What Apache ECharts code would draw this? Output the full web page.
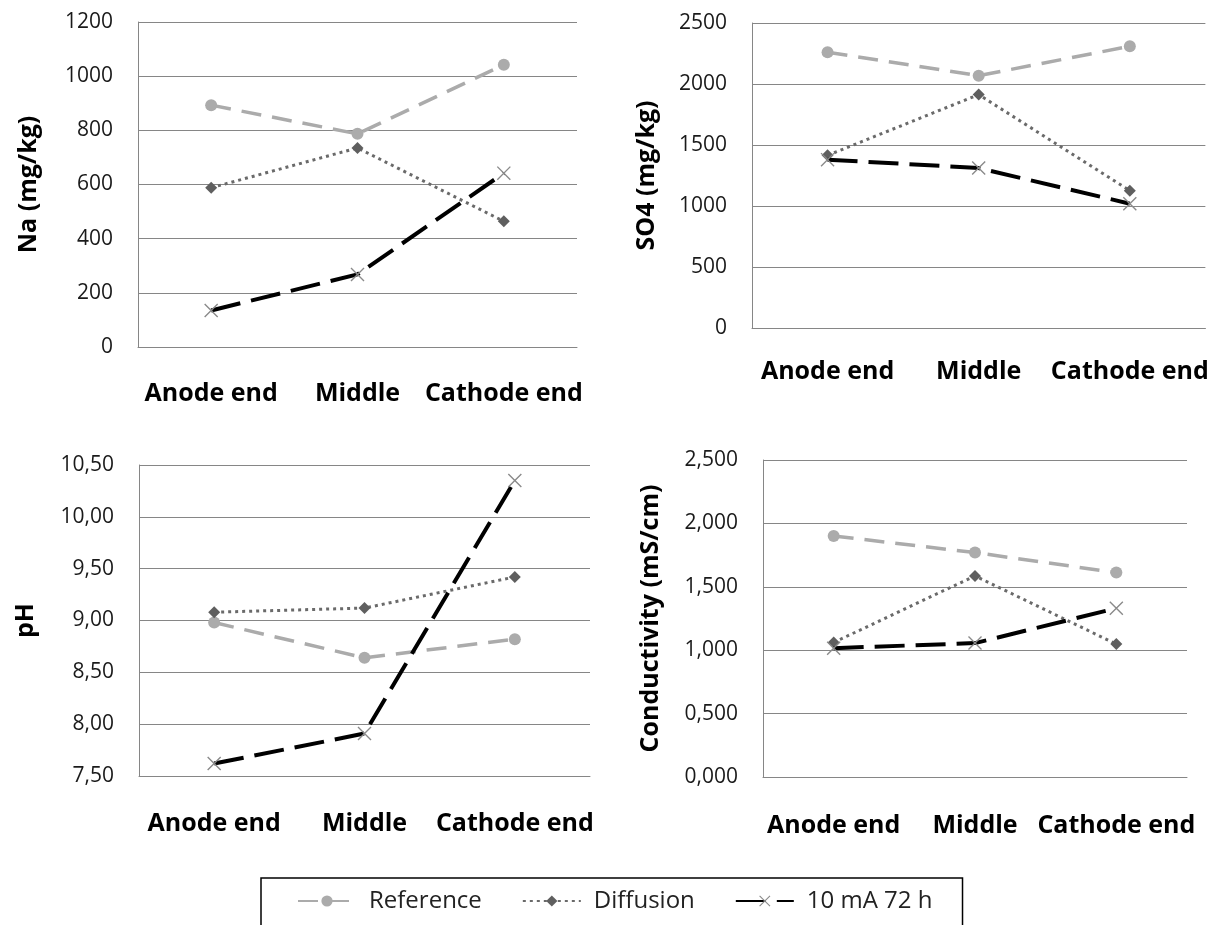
<!DOCTYPE html>
<html>
<head>
<meta charset="utf-8">
<script src="https://cdn.jsdelivr.net/npm/echarts@6/dist/echarts.min.js"></script>
<style>
  html, body { margin: 0; padding: 0; background: #fff; }
  #chart { width: 1211px; height: 925px; }
</style>
</head>
<body>
<div id="chart"></div>
<script>
// Sampling positions along the specimen
const categories = ['Anode end', 'Middle', 'Cathode end'];
const seriesNames = ['Reference', 'Diffusion', '10 mA 72 h'];

// Na (mg/kg)
const naReference = [893, 787, 1042];
const naDiffusion = [588, 735, 464];
const naCurrent = [135, 268, 642];

// SO4 (mg/kg)
const so4Reference = [2260, 2068, 2309];
const so4Diffusion = [1415, 1913, 1126];
const so4Current = [1380, 1311, 1019];

// pH
const phReference = [8.98, 8.64, 8.82];
const phDiffusion = [9.08, 9.12, 9.42];
const phCurrent = [7.62, 7.91, 10.35];

// Conductivity (mS/cm)
const condReference = [1.901, 1.770, 1.612];
const condDiffusion = [1.061, 1.586, 1.048];
const condCurrent = [1.016, 1.056, 1.331];

// Y axis ranges: [min, max, interval, decimals]
const naAxis = [0, 1200, 200, 0];
const so4Axis = [0, 2500, 500, 0];
const phAxis = [7.5, 10.5, 0.5, 2];
const condAxis = [0, 2.5, 0.5, 3];

const FONT = '"Open Sans", "Noto Sans", sans-serif';
const GRID_COLOR = '#868686';

const panels = [
  { title: 'Na (mg/kg)', axis: naAxis, data: [naReference, naDiffusion, naCurrent],
    grid: { left: 138, top: 22, width: 439, height: 325 }, nameGap: 97, labelMargin: 34 },
  { title: 'SO4 (mg/kg)', axis: so4Axis, data: [so4Reference, so4Diffusion, so4Current],
    grid: { left: 752, top: 23, width: 458, height: 305 }, nameGap: 93, labelMargin: 31 },
  { title: 'pH', axis: phAxis, data: [phReference, phDiffusion, phCurrent],
    grid: { left: 139, top: 465, width: 451, height: 311 }, nameGap: 101, labelMargin: 35 },
  { title: 'Conductivity (mS/cm)', axis: condAxis, data: [condReference, condDiffusion, condCurrent],
    grid: { left: 763, top: 460, width: 424, height: 317 }, nameGap: 100, labelMargin: 36 }
];

// Thin gray cross marker
const crossPath = 'path://M0,0.7L0.7,0L10,9.3L9.3,10Z M9.3,0L10,0.7L0.7,10L0,9.3Z';

const seriesStyles = [
  { symbol: 'circle', symbolSize: 12, itemStyle: { color: '#ababab' },
    lineStyle: { color: '#ababab', width: 3.5, type: [20, 11] } },
  { symbol: 'diamond', symbolSize: 12, itemStyle: { color: '#5f5f5f' },
    lineStyle: { color: '#6a6a6a', width: 3, type: [3, 4] } },
  { symbol: crossPath, symbolSize: 14, itemStyle: { color: '#8a8a8a' },
    lineStyle: { color: '#000', width: 4, type: [30, 11] } }
];

const grids = [], xAxes = [], yAxes = [], series = [];
panels.forEach((p, i) => {
  grids.push(p.grid);
  xAxes.push({
    type: 'category', gridIndex: i, data: categories, boundaryGap: true,
    axisLine: { show: true, lineStyle: { color: GRID_COLOR, width: 1 } },
    axisTick: { show: false },
    axisLabel: { interval: 0, color: '#000', fontFamily: FONT, fontWeight: 'bold', fontSize: 25, margin: p.labelMargin }
  });
  const [mn, mx, step, dec] = p.axis;
  yAxes.push({
    type: 'value', gridIndex: i, min: mn, max: mx, interval: step,
    name: p.title, nameLocation: 'middle', nameGap: p.nameGap,
    nameTextStyle: { color: '#000', fontFamily: FONT, fontWeight: 'bold', fontSize: 25 },
    axisLine: { show: true, lineStyle: { color: GRID_COLOR, width: 1 } },
    axisTick: { show: false },
    splitLine: { show: true, lineStyle: { color: GRID_COLOR, width: 1 } },
    axisLabel: {
      color: '#1a1a1a', fontFamily: FONT, fontSize: 21, margin: 25,
      formatter: v => v.toFixed(dec).replace('.', ',')
    }
  });
  p.data.forEach((vals, k) => {
    series.push(Object.assign({
      type: 'line', name: seriesNames[k], xAxisIndex: i, yAxisIndex: i,
      data: vals, showSymbol: true, animation: false, z: 3 + k
    }, seriesStyles[k]));
  });
});

const chart = echarts.init(document.getElementById('chart'), null, { renderer: 'canvas' });
chart.setOption({
  backgroundColor: '#fff',
  animation: false,
  grid: grids,
  xAxis: xAxes,
  yAxis: yAxes,
  legend: {
    data: seriesNames,
    left: 261, top: 878,
    padding: [11, 30, 14, 36],
    itemGap: 40, itemWidth: 58, itemHeight: 14,
    borderColor: '#000', borderWidth: 1.5,
    textStyle: { color: '#222', fontFamily: FONT, fontSize: 24, padding: [0, 0, 0, 8] }
  },
  series: series
});
</script>
</body>
</html>
